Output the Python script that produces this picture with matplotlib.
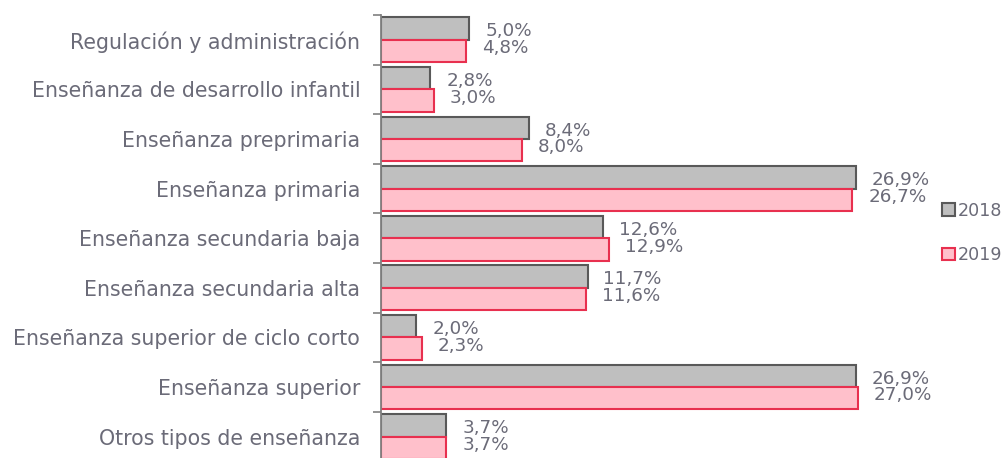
import matplotlib
matplotlib.use("Agg")
import matplotlib.pyplot as plt
import numpy as np
from matplotlib.patches import Patch

categories = [
    "Regulación y administración",
    "Enseñanza de desarrollo infantil",
    "Enseñanza preprimaria",
    "Enseñanza primaria",
    "Enseñanza secundaria baja",
    "Enseñanza secundaria alta",
    "Enseñanza superior de ciclo corto",
    "Enseñanza superior",
    "Otros tipos de enseñanza",
]
values_2018 = [5.0, 2.8, 8.4, 26.9, 12.6, 11.7, 2.0, 26.9, 3.7]
values_2019 = [4.8, 3.0, 8.0, 26.7, 12.9, 11.6, 2.3, 27.0, 3.7]
series_names = ["2018", "2019"]

text_color = "#6b6b78"
fill_18, edge_18 = "#BFBFBF", "#595959"
fill_19, edge_19 = "#FFC0CB", "#E8304F"

W, H = 1008, 458
fig = plt.figure(figsize=(W / 100, H / 100), dpi=100)
ax_left = 381 / W
ax_right = 0.93
ax_top = 15
ax_bottom = 461.4
ax = fig.add_axes([ax_left, 1 - ax_bottom / H, ax_right - ax_left, (ax_bottom - ax_top) / H])

px_per_unit = 17.65
xmax = (ax_right * W - 381) / px_per_unit

y = np.arange(len(categories))
bh = 0.45
ax.barh(y - bh / 2, values_2018, height=bh, color=fill_18, edgecolor=edge_18, linewidth=1.5)
ax.barh(y + bh / 2, values_2019, height=bh, color=fill_19, edgecolor=edge_19, linewidth=1.5)

fs_val = 13.2
fs_cat = 14.8
for i, (a, b) in enumerate(zip(values_2018, values_2019)):
    ax.annotate(f"{a:.1f}".replace(".", ",") + "%", (a, i - 0.17), xytext=(11.5, 0),
                textcoords="offset points", va="center", ha="left", fontsize=fs_val,
                color=text_color, clip_on=False)
    ax.annotate(f"{b:.1f}".replace(".", ",") + "%", (b, i + 0.17), xytext=(11.5, 0),
                textcoords="offset points", va="center", ha="left", fontsize=fs_val,
                color=text_color, clip_on=False)

ax.set_xlim(0, xmax)
ax.set_ylim(len(categories) - 0.5, -0.5)
ax.set_yticks(y)
ax.set_yticklabels(categories, fontsize=fs_cat, color=text_color)
ax.set_yticks(np.arange(-0.5, len(categories) + 0.5, 1), minor=True)
ax.tick_params(axis="y", which="major", length=0, pad=15)
ax.tick_params(axis="y", which="minor", length=6, width=1.2, color="#808080")
ax.set_xticks([])
for s in ["top", "right", "bottom"]:
    ax.spines[s].set_visible(False)
ax.spines["left"].set_color("#808080")
ax.spines["left"].set_linewidth(1.3)

handles = [Patch(facecolor=fill_18, edgecolor=edge_18, linewidth=1.5),
           Patch(facecolor=fill_19, edgecolor=edge_19, linewidth=1.5)]
leg = fig.legend(handles, series_names, loc="center left", bbox_to_anchor=(942 / W, 1 - 233 / H),
                 frameon=False, fontsize=12.6, handlelength=0.75, handleheight=0.75,
                 handletextpad=0.15, labelspacing=1.5, borderpad=0, borderaxespad=0)
for t in leg.get_texts():
    t.set_color(text_color)

fig.savefig("out.png", dpi=100)
